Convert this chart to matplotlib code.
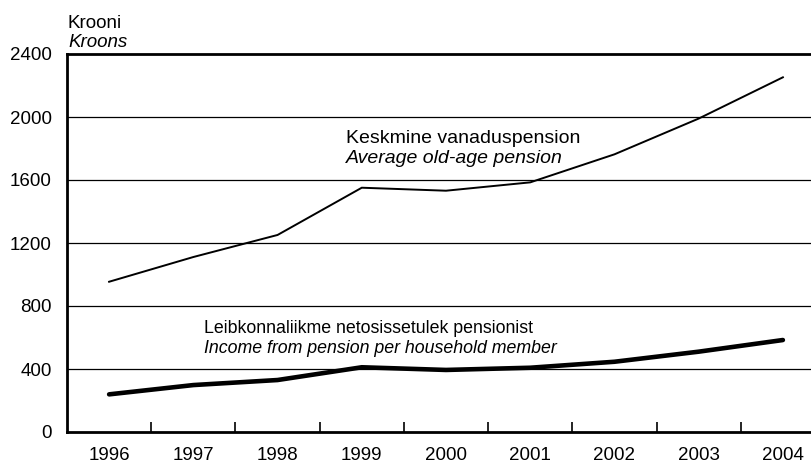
import matplotlib
matplotlib.use('Agg')
import matplotlib.pyplot as plt
import numpy as np

plt.rcParams['font.family'] = ['Liberation Sans', 'DejaVu Sans']

years = ['1996', '1997', '1998', '1999', '2000', '2001', '2002', '2003', '2004']
# Keskmine vanaduspension / Average old-age pension
pension = [954, 1111, 1251, 1551, 1532, 1585, 1763, 1990, 2252]
# Leibkonnaliikme netosissetulek pensionist / Income from pension per household member
income = [239, 298, 330, 411, 394, 408, 446, 510, 584]
yticks = [0, 400, 800, 1200, 1600, 2000, 2400]

fig = plt.figure(figsize=(8.12, 4.63), dpi=100)
ax = fig.add_axes([67 / 812, 31 / 463, 758 / 812, 378 / 463])

x = np.arange(len(years))
ax.plot(x, pension, color='black', lw=1.4, solid_joinstyle='miter', zorder=3)
ax.plot(x, income, color='black', lw=3.3, solid_capstyle='round', zorder=3)

ax.set_xlim(-0.5, len(years) - 0.5)
ax.set_ylim(0, 2400)
ax.set_yticks(yticks)
ax.set_yticklabels([str(v) for v in yticks], fontsize=13.5)
ax.tick_params(axis='y', length=0, pad=11)
ax.set_xticks(x)
ax.set_xticklabels(years, fontsize=13.5)
ax.tick_params(axis='x', which='major', length=0, pad=11)
ax.set_xticks(x[:-1] + 0.5, minor=True)
ax.tick_params(axis='x', which='minor', direction='in', length=7, width=1.2)

for v in yticks[1:-1]:
    ax.axhline(v, color='black', lw=0.9, zorder=1)

for s in ['left', 'bottom', 'top']:
    ax.spines[s].set_linewidth(2)
ax.spines['right'].set_visible(False)

fig.text(68 / 812, 1 - 28 / 463, 'Krooni', fontsize=13.5, va='baseline', ha='left')
fig.text(68 / 812, 1 - 47 / 463, 'Kroons', fontsize=13.5, style='italic', va='baseline', ha='left')

ax.text(2.81, 1835, 'Keskmine vanaduspension', fontsize=14, ha='left', va='baseline')
ax.text(2.81, 1708, 'Average old-age pension', fontsize=14, style='italic', ha='left', va='baseline')

ax.text(1.13, 629, 'Leibkonnaliikme netosissetulek pensionist', fontsize=12.8,
        ha='left', va='baseline')
ax.text(1.13, 502, 'Income from pension per household member', fontsize=12.8,
        style='italic', ha='left', va='baseline')

fig.savefig('out.png', dpi=100)
